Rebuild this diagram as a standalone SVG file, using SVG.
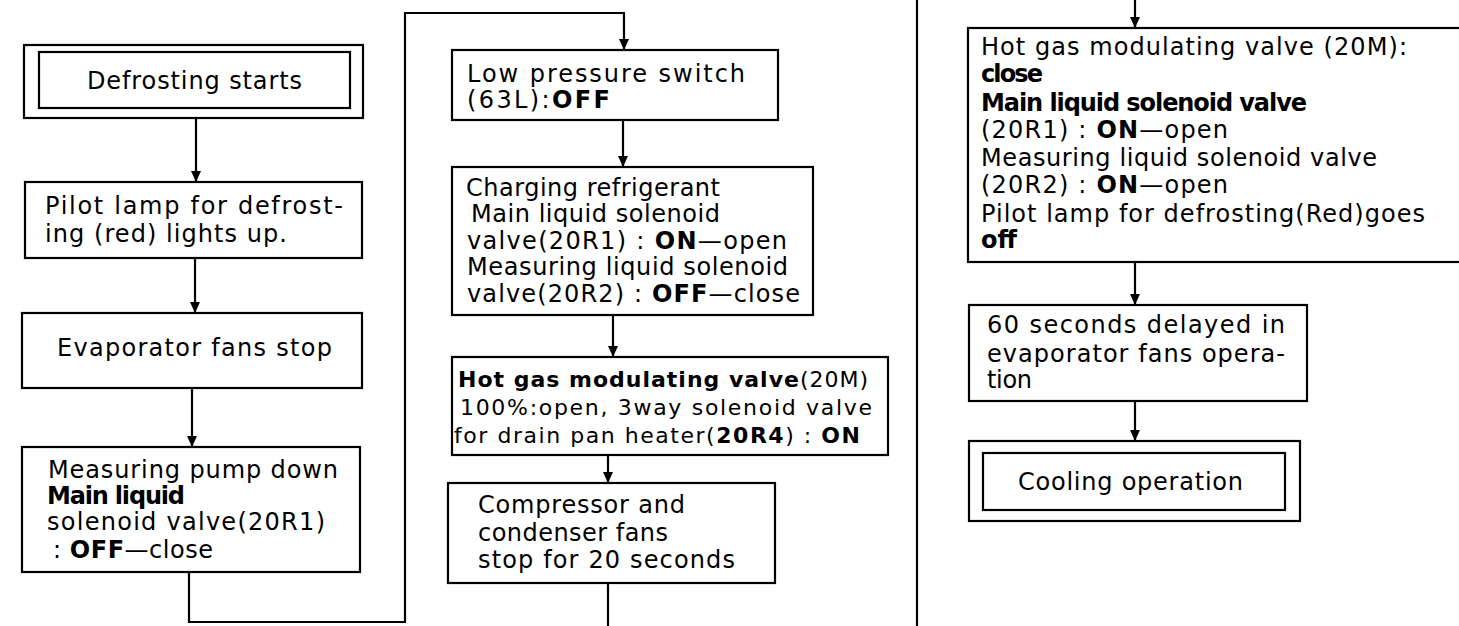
<svg xmlns="http://www.w3.org/2000/svg" width="1459" height="626" viewBox="0 0 1459 626">
<style>
.bx{fill:#fff;stroke:#000;stroke-width:2.2}
.ln{fill:none;stroke:#000;stroke-width:2.2}
text{font-family:"DejaVu Sans","Liberation Sans",sans-serif;font-size:24px;fill:#000}
.b{font-weight:bold}
.s{font-size:22px}
</style>
<defs>
<marker id="ar" markerUnits="userSpaceOnUse" markerWidth="10" markerHeight="11" refX="5" refY="11" orient="0" viewBox="0 0 10 11">
<path d="M0,0 L10,0 L5,11 Z" fill="#000"/>
</marker>
</defs>
<rect width="1459" height="626" fill="#fff"/>
<g id="connectors">
<line class="ln" x1="196" y1="118" x2="196" y2="182" marker-end="url(#ar)"/>
<line class="ln" x1="195" y1="258" x2="195" y2="313" marker-end="url(#ar)"/>
<line class="ln" x1="192" y1="388" x2="192" y2="447" marker-end="url(#ar)"/>
<path class="ln" d="M189 572 V622 H405 V13 H624 V50" marker-end="url(#ar)"/>
<line class="ln" x1="623" y1="120" x2="623" y2="167" marker-end="url(#ar)"/>
<line class="ln" x1="613" y1="315" x2="613" y2="357" marker-end="url(#ar)"/>
<line class="ln" x1="608" y1="455" x2="608" y2="483" marker-end="url(#ar)"/>
<line class="ln" x1="608" y1="583" x2="608" y2="630"/>
<line class="ln" x1="917" y1="0" x2="917" y2="626"/>
<line class="ln" x1="1135" y1="0" x2="1135" y2="28" marker-end="url(#ar)"/>
<line class="ln" x1="1135" y1="262" x2="1135" y2="305" marker-end="url(#ar)"/>
<line class="ln" x1="1135" y1="401" x2="1135" y2="441" marker-end="url(#ar)"/>
</g>
<g id="n1">
<rect class="bx" x="24" y="45" width="339" height="73"/>
<rect class="bx" x="39" y="52" width="311" height="56"/>
<text x="87" y="89" textLength="215" lengthAdjust="spacing" font-size="25">Defrosting starts</text>
</g>
<g id="n2">
<rect class="bx" x="25" y="182" width="337" height="76"/>
<text x="45" y="214" textLength="298" lengthAdjust="spacing">Pilot lamp for defrost-</text>
<text x="45" y="242" textLength="242" lengthAdjust="spacing">ing (red) lights up.</text>
</g>
<g id="n3">
<rect class="bx" x="22" y="313" width="340" height="75"/>
<text x="57" y="356" textLength="275" lengthAdjust="spacing">Evaporator fans stop</text>
</g>
<g id="n4">
<rect class="bx" x="22" y="447" width="338" height="125"/>
<text x="48" y="478" textLength="290" lengthAdjust="spacing">Measuring pump down</text>
<text x="47" y="504" textLength="138" lengthAdjust="spacing" class="b">Main liquid</text>
<text x="47" y="530" textLength="278" lengthAdjust="spacing">solenoid valve(20R1)</text>
<text x="53" y="558" textLength="160" lengthAdjust="spacing">: <tspan class="b">OFF</tspan>—close</text>
</g>
<g id="n5">
<rect class="bx" x="452" y="50" width="326" height="70"/>
<text x="467" y="82" textLength="278" lengthAdjust="spacing">Low pressure switch</text>
<text x="467" y="108" textLength="143" lengthAdjust="spacing">(63L):<tspan class="b">OFF</tspan></text>
</g>
<g id="n6">
<rect class="bx" x="452" y="167" width="361" height="148"/>
<text x="466" y="196" textLength="254" lengthAdjust="spacing">Charging refrigerant</text>
<text x="471" y="222" textLength="249" lengthAdjust="spacing">Main liquid solenoid</text>
<text x="467" y="249" textLength="320" lengthAdjust="spacing">valve(20R1) : <tspan class="b">ON</tspan>—open</text>
<text x="467" y="275" textLength="321" lengthAdjust="spacing">Measuring liquid solenoid</text>
<text x="467" y="302" textLength="333" lengthAdjust="spacing">valve(20R2) : <tspan class="b">OFF</tspan>—close</text>
</g>
<g id="n7">
<rect class="bx" x="452" y="357" width="436" height="98"/>
<text class="s" x="458" y="387" textLength="410" lengthAdjust="spacing"><tspan class="b">Hot gas modulating valve</tspan>(20M)</text>
<text class="s" x="460" y="415" textLength="412" lengthAdjust="spacing">100%:open, 3way solenoid valve</text>
<text class="s" x="454" y="443" textLength="406" lengthAdjust="spacing">for drain pan heater(<tspan class="b">20R4</tspan>) : <tspan class="b">ON</tspan></text>
</g>
<g id="n8">
<rect class="bx" x="448" y="483" width="327" height="100"/>
<text x="478" y="513" textLength="207" lengthAdjust="spacing">Compressor and</text>
<text x="478" y="541" textLength="190" lengthAdjust="spacing">condenser fans</text>
<text x="478" y="568" textLength="257" lengthAdjust="spacing">stop for 20 seconds</text>
</g>
<g id="n9">
<rect class="bx" x="968" y="28" width="500" height="234"/>
<text x="981" y="55" textLength="426" lengthAdjust="spacing">Hot gas modulating valve (20M):</text>
<text x="981" y="82" textLength="62" lengthAdjust="spacing" class="b">close</text>
<text x="981" y="111" textLength="326" lengthAdjust="spacing" class="b">Main liquid solenoid valve</text>
<text x="981" y="138" textLength="247" lengthAdjust="spacing">(20R1) : <tspan class="b">ON</tspan>—open</text>
<text x="981" y="166" textLength="396" lengthAdjust="spacing">Measuring liquid solenoid valve</text>
<text x="981" y="193" textLength="247" lengthAdjust="spacing">(20R2) : <tspan class="b">ON</tspan>—open</text>
<text x="981" y="222" textLength="444" lengthAdjust="spacing">Pilot lamp for defrosting(Red)goes</text>
<text x="981" y="248" class="b">off</text>
</g>
<g id="n10">
<rect class="bx" x="969" y="305" width="338" height="96"/>
<text x="987" y="333" textLength="298" lengthAdjust="spacing">60 seconds delayed in</text>
<text x="987" y="362" textLength="298" lengthAdjust="spacing">evaporator fans opera-</text>
<text x="987" y="388" textLength="45" lengthAdjust="spacing">tion</text>
</g>
<g id="n11">
<rect class="bx" x="969" y="441" width="331" height="80"/>
<rect class="bx" x="983" y="453" width="302" height="57"/>
<text x="1018" y="490" textLength="225" lengthAdjust="spacing">Cooling operation</text>
</g>
</svg>
